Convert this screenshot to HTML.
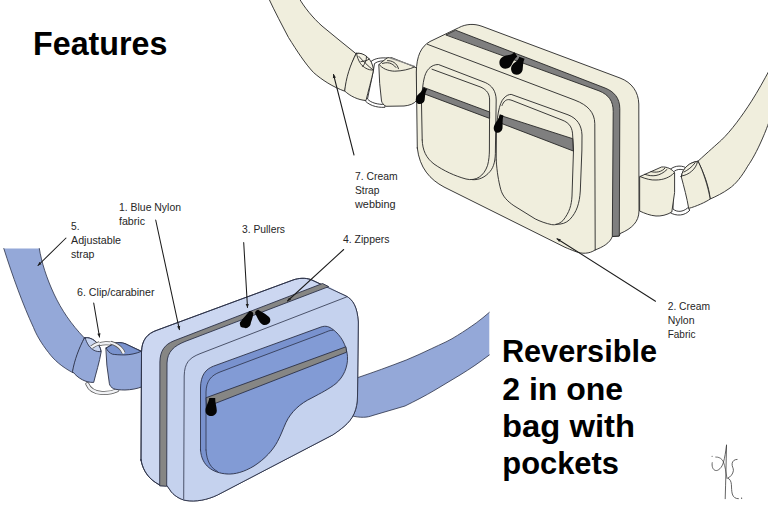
<!DOCTYPE html>
<html lang="en">
<head>
<meta charset="utf-8">
<title>Features - Reversible 2 in one bag with pockets</title>
<style>
  html, body { margin: 0; padding: 0; background: #ffffff; }
  body { width: 768px; height: 512px; overflow: hidden; position: relative; }
  svg { position: absolute; left: 0; top: 0; display: block; }
  text { font-family: "Liberation Sans", sans-serif; fill: #1a1a1a; }
  .big { font-weight: bold; fill: #000; }
  .lbl { font-size: 11px; fill: #262626; }
  .o { stroke: #262626; stroke-width: 0.9; stroke-linejoin: round; stroke-linecap: round; }
  .cr { fill: #f0eedd; }
  .lb { fill: #c5d2ee; }
  .lb2 { fill: #ccd7f1; }
  .sb { fill: #94a8d8; }
  .pk { fill: #7992ce; }
  .pk2 { fill: #829bd5; }
  .gz { fill: #7f7f7f; }
  .nf { fill: none; }
  .ln { stroke: #262626; stroke-width: 0.9; fill: none; stroke-linecap: round; stroke-linejoin: round; }
  .blk { fill: #050505; }
  .ld { stroke: #1c1c1c; stroke-width: 1.05; }
  #blue-bag .o, #blue-bag .ln { stroke: #2b3147; }
  #blue-bag .ln { stroke-width: 0.8; }
</style>
</head>
<body>
<svg width="768" height="512" viewBox="0 0 768 512">
  <defs>
    <marker id="ah" viewBox="0 0 10 10" refX="9" refY="5" markerWidth="4.4" markerHeight="4" orient="auto-start-reverse" markerUnits="userSpaceOnUse">
      <path d="M0,1 L10,5 L0,9 z" fill="#1f1f1f"/>
    </marker>
  </defs>

  <!-- ================= CREAM BAG ================= -->
  <g id="cream-bag">
    <!-- left strap -->
    <path class="cr o" d="M299,-2 C304,7 313,18 322,26 C333,35.5 345,44.5 356,53.7 C351,64 347,78 344.7,91.2 C333,87 322,80 313.5,72.5 C305,63.5 297,51 288.5,37.5 C282,25 275,12 268.5,-2 Z"/>
    <!-- ring left -->
    <path class="o" fill="#fff" stroke-width="0.6" d="M371.5,61 C376,58 381,57.6 388,58 L388,61 C382,60.5 378,61 374.5,63.5 L373.5,70 C371.5,80 369,91 367.5,99 C371,103 378,104.5 385,104.5 L385,107.3 C376,107.8 368,105 364,99.5 Z"/>
    <!-- loop left -->
    <path class="cr o" d="M356.3,53.5 C362,52 371,58 373.5,70 C371.5,80 368,92 366,100.5 C358,100 350,96 344.7,91 C346,78 350,65 356.3,53.5 Z"/>
    <path class="o" fill="#f4f2e4" stroke-width="0.7" d="M356.6,53.3 C364,52 372.5,59 373.5,70 C368,70.5 363,67 360.5,63.5 C358.5,60.5 357,57 356.6,53.3 Z"/>
    <path class="ln" stroke-width="0.6" d="M359,56.5 C363,61 368,66 372.5,69.5 M366.5,56.5 C366.5,61 365,64 362.5,66.5 M361,61.5 C364,61.5 367,60.5 369.5,59"/>
    <!-- tab left -->
    <path class="cr o" d="M379.1,64.4 L386,58.7 C388,57.3 390,57.2 392,57.8 L414.7,66.9 L416.6,68.2 L416.9,100 C414.5,104 409,105.5 404,106 L386,106.3 C383.5,105 382,103 381.5,101 L379.7,83.7 Z"/>
    <path class="ln" stroke-width="0.7" d="M379.1,64.4 C382,68.5 388,71 394.7,71.2 C402,71 409,69.5 414.7,66.9 M382.5,63.5 C387,61.8 392,62.5 396,67.5 M387.5,60.6 C392,60.5 397,63 398.5,68.7"/>
    <path d="M389,57.6 L414.5,66.2" stroke="#8a8a8a" stroke-width="1.2" fill="none"/>

    <!-- right strap -->
    <path class="cr o" d="M698,161.2 C708,152 716,145 721.5,140 C731,131 742,116 751.5,101.2 C758,91 764,80 770,69 L770,119 C767,128 764,135 761.8,140 C757,151 752,160 747.7,166.2 C742,176 736,184 729,188.7 C723,193 716,196.5 710.2,199 C709,187 704,173 698,161.2 Z"/>
    <!-- ring right -->
    <path class="o" fill="#fff" stroke-width="0.6" d="M670,169.5 C675,165 683,165 688,169 L687,172 C683,168.5 677,168.5 673.5,172 L673,209 C677,212.5 683,212 687.5,208 L690,210 C685,216 676,216.5 670,212.5 Z"/>
    <!-- tab right -->
    <path class="cr o" d="M640,176.5 L661.5,167 C667,166.5 672,169 674.6,172.8 L674.6,192.5 L671.8,212 C667,215 661,216.3 656,216 C650,215.5 645,213.5 640,211.2 Z"/>
    <path class="ln" stroke-width="0.7" d="M640,176.5 C646,179 651,180.3 656,180 C663,180 670,177.5 674.2,172.8 M645,174.3 C652,177 660,176.5 667,169.5 M651,171.6 C656,173 662,172 665,168"/>
    <!-- loop right -->
    <path class="cr o" d="M681.2,176.5 C683,168 690,162 698,161.2 C703,171 708,186 710.2,199 C706,202 696,206.5 688.7,208.4 C687,198 684,187 681.2,176.5 Z"/>
    <path class="o" fill="#f4f2e4" stroke-width="0.7" d="M681.5,176 C682.5,168 690,162 697.5,161.6 C696,169 689,175 681.5,176 Z"/>
    <path class="ln" stroke-width="0.6" d="M684,172 C688,170 692,167 695,163"/>

    <!-- bag body silhouette -->
    <path class="cr o" d="M417.3,148 L416.3,72 C416.6,56 421,46.5 430,41.5 L458.5,27.8 C466,23.8 474,23.4 482,26.3 L620,78 C632,82.5 638.5,92 638.8,104 L639,211 C638.8,222 632,228.5 620,233.6 L619.3,236 L612.3,236.5 C610,243 603,247 595,250 C589.5,253.8 582,254.3 575,251.3 C571,249.8 568,248.6 565,247.3 L444,187 C430,179.5 419.5,168 417.3,148 Z"/>
    <!-- zipper band -->
    <path class="gz o" stroke-width="0.7" d="M446.2,34.8 L455.6,30.2 L605,88 C614,91.5 619.8,98 619.8,108.7 L619.3,236 L612.3,236.5 L613.2,111.5 C613.2,101 609,95 599.4,91 Z"/>
    <!-- front face edge line -->
    <path class="ln" d="M427.4,44.3 L575,100.2 C588,105.2 594.6,112.5 594.8,123.7 L595.2,250"/>

    <!-- left pocket -->
    <path class="ln" d="M422.2,140 C422.5,150 426,158 434,164 C444,171 455,176 466,179 C476,181.5 484,176 487.6,165.3 C489,160 489.3,155 489.4,151 L489.6,100 C489.6,94 487,90 481,87.2 L432,69.2 M422.2,140 L421.5,104 C421.7,95 422.6,86 423.8,80 C425.5,70 431,64.5 438.4,64.5 L485.2,82.5 C492,85.5 496,91 496.2,100 L495.4,150 C495.5,160 494,167 490,171.5 C485,177.5 479,180 472.7,179.7"/>
    <path class="gz o" d="M423.6,87.4 L489.6,112 L489.6,118.4 L422,93 Z" stroke-width="0.5"/>
    <!-- right pocket -->
    <path class="ln" d="M496.2,160 L496.4,135 C496.6,118 499,103 504,98 C506.5,95.3 509,94.4 511.2,94.4 L568,114.8 C577,118.3 581.6,125 582,135 L581.9,150 L580.3,191 C579.5,203 577,212 569.6,219.7 C566,223 562,224.5 556,224.3"/>
    <path class="ln" d="M502,105.5 C503.5,101.5 506,99.6 508.5,99.6 C509.5,99.6 510.5,99.9 512,100.4 L562,120 C570,123 572.5,128 572.7,136 L573.5,150 L572,196 C571.5,205 569.6,212.3 563,220.5 C559,224 555.5,225.3 551.6,224.6 C546,223.5 540,221.3 535.2,218.9 L513.9,205.7 C507,201 502.5,196 500.7,189.3 C498.5,181 497,172 496.2,160"/>
    <path class="gz o" d="M500.5,115.5 L572.7,138.7 L573.3,151 L498.5,122.3 Z" stroke-width="0.5"/>

    <!-- pullers -->
    <path class="blk" d="M514.5,52.2 L517.3,56.6 C514.5,58.8 513,62 511.5,65 C509,70 501.5,69.8 499.8,65 C498,59.5 502.5,56 507.5,55.3 C510.5,54.9 512.8,53.8 514.5,52.2 Z"/>
    <path class="blk" d="M519.3,56.8 L524.6,58.7 C522.8,62 523.2,66 522.6,70 C521.5,75.8 513.5,76.3 511.6,71.5 C509.8,67 513,63.5 515.8,61.8 C517.6,60.6 518.6,58.9 519.3,56.8 Z"/>
    <path class="blk" d="M423.8,87.3 L427.2,89.6 C424.6,93 425.3,97 424.6,100.3 C423.4,105 417.2,105.3 416.1,101.5 C415,97.8 417.3,95 419.8,93 C421.6,91.5 423,89.5 423.8,87.3 Z"/>
    <path class="blk" d="M499.8,114.3 L503.4,115.6 C502.2,120 502.8,125 502.5,128.3 C501.7,133.6 495.2,134.3 494,130 C492.9,126 495.8,122.5 497.6,120 C498.9,118.2 499.4,116.4 499.8,114.3 Z"/>
  </g>

  <!-- ================= BLUE BAG ================= -->
  <g id="blue-bag">
    <!-- left strap -->
    <path class="sb" d="M3.8,248.5 L39.3,248.5 C41.5,262 46.5,278 54,294 C61.5,310 71,324 84.4,338 C79,349 75,361 72.5,372.5 C62,367 54,360 48.5,352.5 C41,343 36,334 33.5,327.5 C23,305 12.5,276 3.8,248.5 Z"/>
    <path class="ln" stroke-width="0.7" d="M3.8,248.5 C12.5,276 23,305 33.5,327.5 C36,334 41,343 48.5,352.5 C54,360 62,367 72.5,372.5 M39.3,248.5 C41.5,262 46.5,278 54,294 C61.5,310 71,324 84.4,338 C79,349 75,361 72.5,372.5"/>
    <!-- ring back part -->
    <path fill="none" stroke="#5a5a5a" stroke-width="4" stroke-linecap="round" d="M93,347.3 C99,342.6 112,341.2 119.5,347.2 C121.5,348.8 123,350.6 124,352.6 M87.3,384 C89.5,389.5 95,392.6 102,393 C108,393.3 113,392.3 117.3,390.2"/>
    <path fill="none" stroke="#f1f2f5" stroke-width="2.4" stroke-linecap="round" d="M93,347.3 C99,342.6 112,341.2 119.5,347.2 C121.5,348.8 123,350.6 124,352.6 M87.3,384 C89.5,389.5 95,392.6 102,393 C108,393.3 113,392.3 117.3,390.2"/>
    <!-- loop -->
    <path class="sb o" stroke-width="0.7" d="M84.4,338 C90,335.8 100,342 101.2,351.7 C99.5,362 96,373 93.7,382.4 C86,382.8 78,378.5 72.5,371.5 C74.5,360 79,348 84.4,338 Z"/>
    <path class="o" fill="#c9d6f1" stroke-width="0.6" d="M85.2,337.8 C91,336.5 100,343 101,351.5 C96,352.2 91.5,349.5 89,346 C87,343 85.8,340.5 85.2,337.8 Z"/>
    <path fill="none" stroke="#5a5a5a" stroke-width="3.8" stroke-linecap="butt" d="M91.5,347.2 C94,345.2 96.5,344 99.5,343.2"/>
    <path fill="none" stroke="#f1f2f5" stroke-width="2.3" stroke-linecap="butt" d="M91.2,347.4 C94,345.2 96.5,344 99.8,343.1"/>
    <!-- tab -->
    <path class="sb o" stroke-width="0.7" d="M106.2,348 L115,343 C118,342.2 122,342.6 125,343.6 L141.2,351.1 L142.3,352.5 L142.3,386.7 C137,388.8 131,389.8 125,390 C120,390 116,389.6 113.7,388.7 C111,387.5 109.8,385.5 109.4,383.7 L106.9,365.5 Z"/>
    <path class="o" fill="#7a93ce" stroke-width="0.6" d="M106.2,348 L115,343 C118,342.2 122,342.6 125,343.6 L141.2,351.4 C136,353.6 130,354.8 125,354.9 C120,355 115,354.6 112.5,354.2 C109.5,353 107.2,350.8 106.2,348 Z"/>
    <path fill="none" stroke="#5a5a5a" stroke-width="3.8" d="M110.5,342.6 C115,343.6 119.5,346.5 122,350 C122.8,351.2 123.3,352.3 123.8,353.2"/>
    <path fill="none" stroke="#f1f2f5" stroke-width="2.3" d="M110,342.5 C115,343.6 119.5,346.5 122,350 C122.8,351.2 123.3,352.3 123.9,353.5"/>

    <!-- right strap -->
    <path class="sb" d="M350,380.3 L358.1,377.5 C366,374.8 374,372 381.25,369.4 C390,366.2 398,363.2 406.25,360 C415,356.5 423,352.6 431.25,348.75 C436,346.5 441,344.2 446,341.9 C450,340 454,337.6 457.5,335.4 C464,331.4 470.5,327 476.25,322.9 C481,319.5 485,316 489.3,312.4 L489.3,355 C480,362 470,369 460,375 L435,390 C425,396 415,401 405,406 L373,415.4 C367,417.6 361,418.2 350,415.5 Z"/>
    <path class="ln" stroke-width="0.6" d="M350,380.3 L358.1,377.5 C366,374.8 374,372 381.25,369.4 C390,366.2 398,363.2 406.25,360 C415,356.5 423,352.6 431.25,348.75 C436,346.5 441,344.2 446,341.9 C450,340 454,337.6 457.5,335.4 C464,331.4 470.5,327 476.25,322.9 C481,319.5 485,316 489.3,312.4 M489.3,355 C480,362 470,369 460,375 L435,390 C425,396 415,401 405,406 L373,415.4 C367,417.6 361,418.2 350,415.5"/>

    <!-- body silhouette -->
    <path class="lb2 o" d="M141,460 L141.5,352 C141.8,340 147,333.5 157.5,330 L293,280 C299,278 305,277.6 311,279.6 L346,296 C353,299.5 357.3,307 358.3,322 L357.5,396 C357.3,410 353,419 344,426.5 C340.5,429.5 336,432.8 332.5,435 L217.5,495 C207,500 196,502 186,500.5 C180,499.5 173,495 170,490 L166.9,485.5 L159.7,485 C150,480 143,472 141,460 Z"/>
    <path class="lb" d="M166.7,485.5 L167,363 C167.4,351.5 174,346 185,341.5 L328.7,286.6 L346,296 C353,299.5 357.3,307 358.3,322 L357.5,396 C357.3,410 353,419 344,426.5 C340.5,429.5 336,432.8 332.5,435 L217.5,495 C207,500 196,502 186,500.5 C180,499.5 173,495 170,490 Z"/>
    <path class="o nf" d="M141,460 L141.5,352 C141.8,340 147,333.5 157.5,330 L293,280 C299,278 305,277.6 311,279.6 L346,296 C353,299.5 357.3,307 358.3,322 L357.5,396 C357.3,410 353,419 344,426.5 C340.5,429.5 336,432.8 332.5,435 L217.5,495 C207,500 196,502 186,500.5 C180,499.5 173,495 170,490 L166.9,485.5 L159.7,485 C150,480 143,472 141,460 Z"/>
    <!-- zipper band -->
    <path class="o" fill="#868684" d="M159.7,485.5 L159.9,362 C160.1,351 164.5,344.5 174,340.8 L322.5,283.5 L328.7,286.6 L185,341.5 C174,346 167.4,351.5 167,363 L166.7,486 Z" stroke-width="0.6"/>
    <!-- front face edge line -->
    <path class="ln" d="M346.5,297 L200,353.7 C189,358 184.5,363 184.2,376 L183.7,499"/>

    <!-- pocket -->
    <path class="pk o" stroke-width="0.8" d="M200.5,450 L200.5,388 C200.6,375 206,369 213.4,366.2 L321,327 C326,325.4 329,326.5 333,329.5 C341,335.5 346.5,345 347.5,356.5 C348,367 343.5,377 336,383.5 C330,388.5 320,393.5 311.9,397.9 C300,403.5 291,412 286,422.5 C283,429 281,435 277.5,441.5 C273,450 265,459 254,466 C244,472 235,474.5 227,474 C213,473 201.5,466 200.5,450 Z"/>
    <path class="pk2" d="M206,450 L206,392 C206.3,381 211,375.5 220,372 L322,333.6 C327,331.8 330,329.8 333,330.4 C340.5,336 345.7,345.5 346.6,356.5 C347.1,366.5 342.8,376.3 335.4,382.7 C329.5,387.7 319.6,392.7 311.5,397.1 C299.5,402.7 290.3,411.3 285.2,422 C282.2,428.5 280.2,434.5 276.8,441 C272.3,449.4 264.4,458.3 253.5,465.2 C243.6,471.1 234.8,473.5 227,473.1 C214,472 206.8,465 206,450 Z"/>
    <path class="ln" stroke-width="0.7" d="M206,450 L206,392 C206.3,381 211,375.5 220,372 L322,333.6 C327,331.8 330,329.8 333,330.2 M206,450 C206.8,462 211,468 217.5,471.5"/>
    <path class="o" fill="#868684" d="M206.4,397.6 L345.9,346.8 L346.6,352.2 L207,406.6 Z" stroke-width="0.5"/>
    <!-- pullers -->
    <path class="blk" d="M209.3,398 L215.2,398 C215,402.5 216.6,406 216.8,410.5 C217,417.5 205.8,418 205.5,411 C205.3,406.5 208.6,403 209.3,398 Z"/>
    <path class="blk" d="M249.5,311 C251,310.6 253,311.8 253.3,313.4 C253,316.5 252,319.5 251,322.3 C250.5,324.5 250.5,325.5 249.5,326.3 C247.5,328.3 245.5,328.5 244.3,327.8 C241.5,327.5 240,326.5 240.2,325.2 C239.5,323.5 239.8,322.5 240.6,321.5 C242,319.7 243.6,318 245.1,316.3 Z"/>
    <path class="blk" d="M257.7,309.9 C258.3,309.6 258.8,310 259.2,310.4 L262.9,312.6 C264.8,313.7 266.6,315 268.1,316.3 C269.5,317.3 270.4,318.6 270.3,320 C270.3,322 269.7,323 268.4,323.7 C267,324.7 265.3,325.2 263.6,324.9 C262,324.4 260.8,323.5 259.9,322.3 C258.6,320.5 257.5,318.4 256.6,316.3 C255.9,314.8 255,313.5 255.1,312.2 C255.6,311 256.6,310.3 257.7,309.9 Z"/>
  </g>

  <!-- ================= LEADER LINES ================= -->
  <g>
    <line class="ln ld" x1="155.7" y1="220" x2="179.4" y2="329.6" marker-end="url(#ah)"/>
    <line class="ln ld" x1="243.7" y1="242.5" x2="247.5" y2="307.5" marker-end="url(#ah)"/>
    <line class="ln ld" x1="343.7" y1="249.5" x2="287.5" y2="301" marker-end="url(#ah)"/>
    <line class="ln ld" x1="66" y1="238" x2="38" y2="265.5" marker-end="url(#ah)"/>
    <line class="ln ld" x1="93.7" y1="303" x2="99.5" y2="337" marker-end="url(#ah)"/>
    <line class="ln ld" x1="354" y1="155" x2="333.5" y2="74.5" marker-end="url(#ah)"/>
    <line class="ln ld" x1="655.5" y1="301.2" x2="557" y2="238.7" marker-end="url(#ah)"/>
  </g>

  <!-- ================= TEXT ================= -->
  <g>
    <text class="big" x="33" y="54.7" font-size="33" textLength="134.4" lengthAdjust="spacingAndGlyphs">Features</text>

    <text class="big" x="501.9" y="362" font-size="31" textLength="155.1" lengthAdjust="spacingAndGlyphs">Reversible</text>
    <text class="big" x="502.2" y="399.7" font-size="31" textLength="121" lengthAdjust="spacingAndGlyphs">2 in one</text>
    <text class="big" x="502.1" y="437" font-size="31" textLength="132.9" lengthAdjust="spacingAndGlyphs">bag with</text>
    <text class="big" x="502.3" y="473.6" font-size="31" textLength="116.7" lengthAdjust="spacingAndGlyphs">pockets</text>

    <text class="lbl" x="119" y="211" textLength="62" lengthAdjust="spacingAndGlyphs">1. Blue Nylon</text>
    <text class="lbl" x="119" y="224.5" textLength="26" lengthAdjust="spacingAndGlyphs">fabric</text>

    <text class="lbl" x="71" y="230" textLength="8.5" lengthAdjust="spacingAndGlyphs">5.</text>
    <text class="lbl" x="71" y="244" textLength="50" lengthAdjust="spacingAndGlyphs">Adjustable</text>
    <text class="lbl" x="71" y="257.5" textLength="23.5" lengthAdjust="spacingAndGlyphs">strap</text>

    <text class="lbl" x="77" y="296.4" textLength="77.5" lengthAdjust="spacingAndGlyphs">6. Clip/carabiner</text>

    <text class="lbl" x="242" y="233.4" textLength="43" lengthAdjust="spacingAndGlyphs">3. Pullers</text>
    <text class="lbl" x="343" y="242.5" textLength="46.5" lengthAdjust="spacingAndGlyphs">4. Zippers</text>

    <text class="lbl" x="355" y="180" textLength="42.5" lengthAdjust="spacingAndGlyphs">7. Cream</text>
    <text class="lbl" x="355" y="193.7" textLength="24.5" lengthAdjust="spacingAndGlyphs">Strap</text>
    <text class="lbl" x="355" y="207.5" textLength="40.5" lengthAdjust="spacingAndGlyphs">webbing</text>

    <text class="lbl" x="667.7" y="310" textLength="42.3" lengthAdjust="spacingAndGlyphs">2. Cream</text>
    <text class="lbl" x="667.7" y="323.7" textLength="26.8" lengthAdjust="spacingAndGlyphs">Nylon</text>
    <text class="lbl" x="667.7" y="338" textLength="27.8" lengthAdjust="spacingAndGlyphs">Fabric</text>
  </g>

  <!-- signature mark -->
  <g fill="none" stroke="#3c3c3c" stroke-width="0.8" stroke-linecap="round">
    <path d="M726.5,445 C726.2,462 725.7,482 725.2,498.7"/>
    <path d="M726.5,445.5 C725.7,452 724.7,458 723.5,462 C722,468 718,471 715.7,470.5 C712.7,470 711.6,466 712.2,462.7"/>
    <path d="M715.7,457 C719,456.8 722,458.5 723.5,462 C725,466 726,472 727,478.5" stroke-width="0.7"/>
    <path d="M737.1,459.4 C734.5,459.3 732.4,461 732.1,463.7 C731.8,466.5 733.6,468 733.4,470.5 C733,474 730.5,477 727.7,478.1 C730,479 731.2,481.5 731.4,484.5 C731.6,488 731.5,491 732.3,494 C733.2,497.3 735.7,498.8 738.4,498.7"/>
    <circle cx="741.6" cy="498.2" r="0.6" fill="#3c3c3c" stroke="none"/>
    <circle cx="712.1" cy="456.3" r="0.55" fill="#3c3c3c" stroke="none"/>
  </g>
</svg>
</body>
</html>
